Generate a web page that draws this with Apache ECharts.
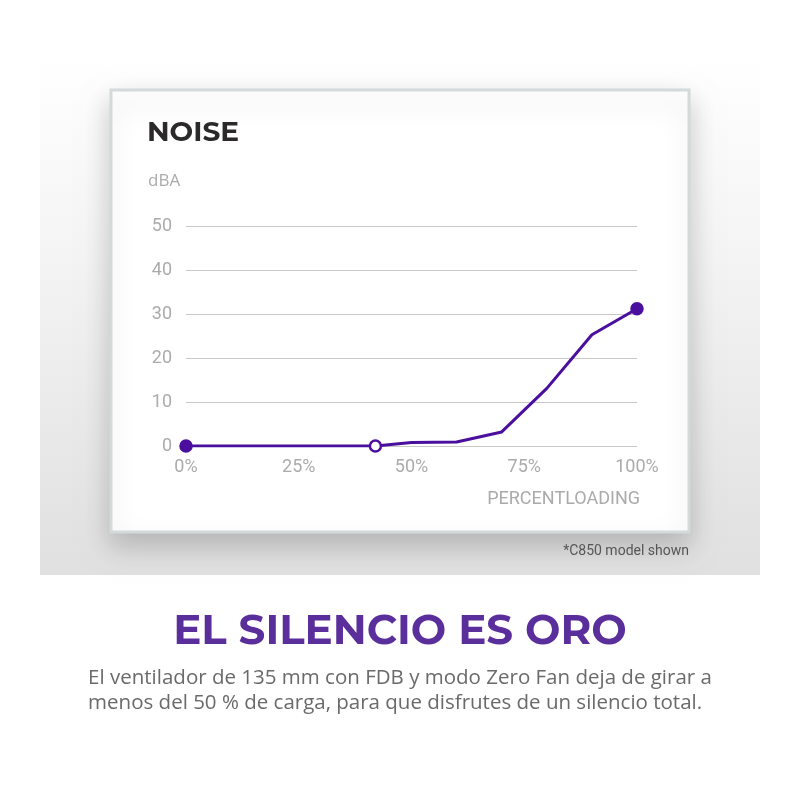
<!DOCTYPE html>
<html>
<head>
<meta charset="utf-8">
<script src="https://cdn.jsdelivr.net/npm/echarts@6/dist/echarts.min.js"></script>
<style>
  html, body { margin: 0; padding: 0; background: #fff; }
  #chart { width: 800px; height: 800px; }
</style>
</head>
<body>
<div id="chart"></div>
<script>
// carga (%) y ruido (dBA)
var loadPct = [0, 42, 50, 60, 70, 80, 90, 100];
var noiseDba = [0, 0, 0.8, 0.9, 3.2, 13.1, 25.3, 31.2];
var yTicks = [0, 10, 20, 30, 40, 50];
var xTicks = [0, 25, 50, 75, 100];

var purple = '#4a0f9e';
var gray = '#ababab';

var chart = echarts.init(document.getElementById('chart'));

var pts = [];
for (var i = 0; i < loadPct.length; i++) {
	pts.push([loadPct[i], noiseDba[i]]);
}

// solo se marcan el primero, el de parada del ventilador y el ultimo
function symbolFor(v, p) {
	var idx = p.dataIndex;
	if (idx === 0 || idx === 1 || idx === loadPct.length - 1) return 'circle';
	return 'none';
}

option = {
	animation: false,
	backgroundColor: '#ffffff',
	graphic: [
		{
			type: 'rect',
			z: -10,
			shape: { x: 40, y: 60, width: 720, height: 515 },
			style: {
				fill: new echarts.graphic.LinearGradient(0, 0, 0, 1, [
					{ offset: 0, color: '#ffffff' },
					{ offset: 0.35, color: '#f5f5f5' },
					{ offset: 1, color: '#e0e0e0' }
				])
			}
		},
		{
			type: 'rect',
			z: -9,
			shape: { x: 111, y: 90, width: 578, height: 442 },
			style: {
				fill: '#ffffff',
				stroke: '#d4dada',
				lineWidth: 3,
				shadowBlur: 26,
				shadowOffsetY: 12,
				shadowColor: 'rgba(0,0,0,0.2)'
			}
		},
		{
			type: 'text',
			left: 147, top: 119,
			style: { text: 'NOISE', fill: '#2b2929', font: 'bold 28px Montserrat, "Open Sans", sans-serif' }
		},
		{
			type: 'text',
			left: 148, top: 173,
			style: { text: 'dBA', fill: gray, font: '17px "Open Sans", sans-serif' }
		},
		{
			type: 'text',
			right: 160, top: 490,
			style: { text: 'PERCENTLOADING', fill: gray, font: '18px Roboto, sans-serif' }
		},
		{
			type: 'text',
			right: 111, top: 544,
			style: { text: '*C850 model shown', fill: '#555555', font: '14px Roboto, sans-serif' }
		},
		{
			type: 'text',
			left: 'center', top: 611,
			style: { text: 'EL SILENCIO ES ORO', fill: '#5a2e9b', font: 'bold 42px Montserrat, "Open Sans", sans-serif' }
		},
		{
			type: 'text',
			left: 'center', top: 666,
			style: {
				text: 'El ventilador de 135 mm con FDB y modo Zero Fan deja de girar a\nmenos del 50 % de carga, para que disfrutes de un silencio total.',
				fill: '#6a6a6a',
				font: '20.5px "Open Sans", sans-serif',
				lineHeight: 25,
				align: 'center'
			}
		}
	],
	grid: {
		left: 186, right: 163, top: 226, bottom: 354,
		containLabel: false
	},
	xAxis: {
		type: 'value',
		min: 0, max: 100, interval: 25,
		axisLine: { show: false },
		axisTick: { show: false },
		splitLine: { show: false },
		axisLabel: {
			color: gray,
			fontSize: 18,
			fontFamily: 'Roboto, sans-serif',
			margin: 12,
			formatter: function(v) { return xTicks.indexOf(v) >= 0 ? v + '%' : ''; }
		}
	},
	yAxis: {
		type: 'value',
		min: 0, max: 50, interval: 10,
		axisLine: { show: false },
		axisTick: { show: false },
		splitLine: { lineStyle: { color: '#c8c8c8', width: 1.2 } },
		axisLabel: {
			color: gray,
			fontSize: 18,
			fontFamily: 'Roboto, sans-serif',
			margin: 14,
			formatter: function(v) { return yTicks.indexOf(v) >= 0 ? String(v) : ''; }
		}
	},
	series: [{
		type: 'line',
		data: pts,
		symbol: symbolFor,
		symbolSize: 11,
		lineStyle: { color: purple, width: 3 },
		itemStyle: {
			color: function(p) { return p.dataIndex === 1 ? '#ffffff' : purple; },
			borderColor: purple,
			borderWidth: 2.5
		},
		z: 5
	}]
};

chart.setOption(option);
</script>
</body>
</html>
